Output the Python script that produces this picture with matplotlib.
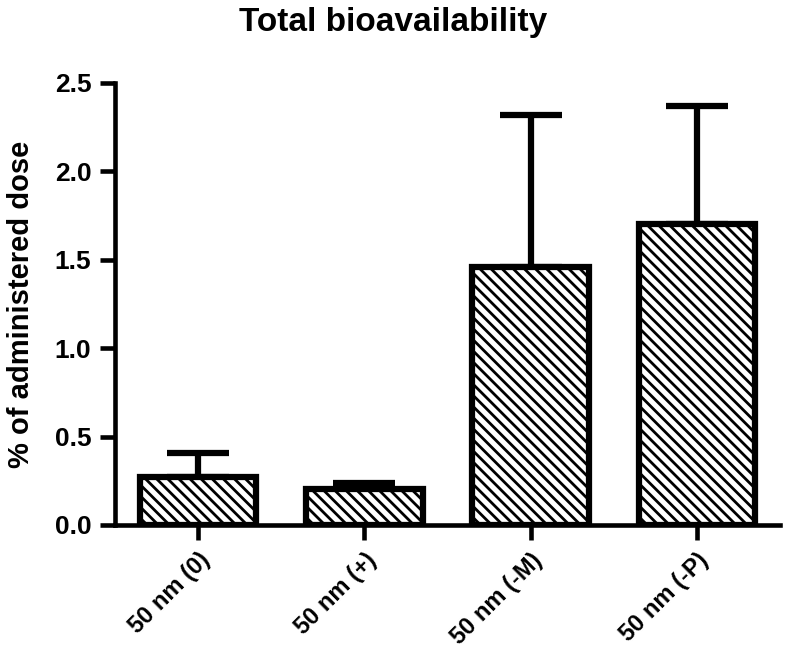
import matplotlib.pyplot as plt
import matplotlib.transforms as mtransforms

plt.rcParams['font.family'] = ['Liberation Sans', 'DejaVu Sans']
plt.rcParams['font.weight'] = 'bold'
plt.rcParams['hatch.linewidth'] = 2.0

# datos
grupos = ["50 nm (0)", "50 nm (+)", "50 nm (-M)", "50 nm (-P)"]
medias = [0.27, 0.205, 1.46, 1.70]
errores = [0.14, 0.03, 0.86, 0.67]

fig = plt.figure(figsize=(7.87, 6.63), dpi=100)
ax = fig.add_axes([115 / 787, 1 - 525 / 663, 665 / 787, 442 / 663])

x = list(range(len(grupos)))
ax.bar(x, medias, width=0.7, color="white", edgecolor="black",
       linewidth=4.5, hatch="\\\\\\", zorder=2)
ax.errorbar(x, medias, yerr=[[0] * len(errores), errores], fmt="none",
            ecolor="black", elinewidth=4.5, capsize=22, capthick=4.5, zorder=1)

ax.set_xlim(-0.5, 3.5)
ax.set_ylim(0, 2.5)
ax.set_yticks([0.0, 0.5, 1.0, 1.5, 2.0, 2.5])
ax.set_yticklabels(["0.0", "0.5", "1.0", "1.5", "2.0", "2.5"])
ax.set_xticks(x)
ax.set_xticklabels(grupos, rotation=45, ha="right", va="top",
                   rotation_mode="anchor", fontsize=17, fontweight="bold")
offset = mtransforms.ScaledTranslation(14 / 100, -4 / 100, fig.dpi_scale_trans)
for lbl in ax.get_xticklabels():
    lbl.set_transform(lbl.get_transform() + offset)

ax.spines["top"].set_visible(False)
ax.spines["right"].set_visible(False)
ax.spines["left"].set_linewidth(3.3)
ax.spines["bottom"].set_linewidth(3.3)
ax.tick_params(axis="both", width=3.3, length=11, direction="out", pad=6)
ax.tick_params(axis="y", labelsize=19)

ax.set_ylabel("% of administered dose", fontsize=21, fontweight="bold",
              labelpad=14)
fig.suptitle("Total bioavailability", fontsize=24, fontweight="bold", y=0.99)

fig.savefig("out.png", dpi=100)
